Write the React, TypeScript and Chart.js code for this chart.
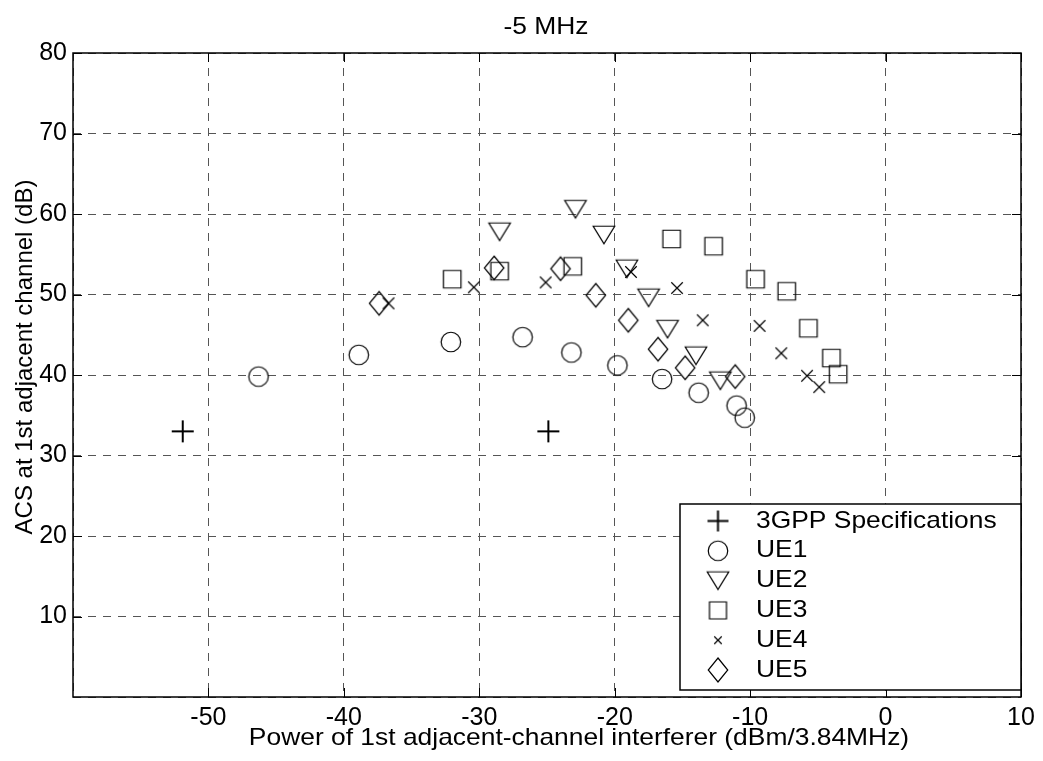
import React, { useEffect, useRef } from 'react';
import { Chart, registerables } from 'chart.js';

Chart.register(...registerables);

// ---------- data ----------
const xTickLabels = [-50, -40, -30, -20, -10, 0, 10];
const yTickLabels = [10, 20, 30, 40, 50, 60, 70, 80];

const specX = [-51.9, -24.9];
const specY = [33.0, 33.0];

const ue1X = [-46.3, -38.9, -32.1, -26.8, -23.2, -19.8, -16.5, -13.8, -11.0, -10.4];
const ue1Y = [39.8, 42.5, 44.1, 44.7, 42.8, 41.2, 39.5, 37.8, 36.2, 34.7];

const ue2X = [-28.5, -22.9, -20.8, -19.1, -17.5, -16.1, -14.0, -12.2];
const ue2Y = [57.8, 60.6, 57.4, 53.2, 49.6, 45.7, 42.4, 39.3];

const ue3X = [-32.0, -28.5, -23.1, -15.8, -12.7, -9.6, -7.3, -5.7, -4.0, -3.5];
const ue3Y = [51.9, 52.9, 53.5, 56.9, 56.0, 51.9, 50.4, 45.8, 42.1, 40.1];

const ue4X = [-36.7, -30.4, -25.1, -18.8, -15.4, -13.5, -9.3, -7.7, -5.8, -4.9];
const ue4Y = [48.9, 50.9, 51.5, 52.8, 50.8, 46.8, 46.1, 42.7, 39.9, 38.5];

const ue5X = [-37.4, -28.9, -24.0, -21.4, -19.0, -16.8, -14.8, -11.1];
const ue5Y = [48.9, 53.3, 53.2, 49.9, 46.8, 43.2, 40.9, 39.8];

const seriesNames = ['3GPP Specifications', 'UE1', 'UE2', 'UE3', 'UE4', 'UE5'];

const titleText = '-5 MHz';
const xTitle = 'Power of 1st adjacent-channel interferer (dBm/3.84MHz)';
const yTitle = 'ACS at 1st adjacent channel (dB)';

const FONT = '"Liberation Sans", Arial, sans-serif';
const FS = 24;
const TICK_FS = 25;
const HSCALE = 1.1;

// ---------- marker images ----------
type Kind = 'plus' | 'circle' | 'tri' | 'square' | 'x' | 'diamond';
function makeMarker(kind: Kind, w: number, h: number, lw: number): HTMLCanvasElement {
  const pad = 3;
  const c = document.createElement('canvas');
  c.width = Math.ceil(w + pad * 2);
  c.height = Math.ceil(h + pad * 2);
  const g = c.getContext('2d')!;
  const cx = c.width / 2;
  const cy = c.height / 2;
  g.strokeStyle = '#000';
  g.lineWidth = lw;
  g.beginPath();
  if (kind === 'plus') {
    g.moveTo(cx - w / 2, cy); g.lineTo(cx + w / 2, cy);
    g.moveTo(cx, cy - h / 2); g.lineTo(cx, cy + h / 2);
  } else if (kind === 'x') {
    g.moveTo(cx - w / 2, cy - h / 2); g.lineTo(cx + w / 2, cy + h / 2);
    g.moveTo(cx + w / 2, cy - h / 2); g.lineTo(cx - w / 2, cy + h / 2);
  } else if (kind === 'circle') {
    g.arc(cx, cy, w / 2, 0, Math.PI * 2);
  } else if (kind === 'tri') {
    g.moveTo(cx - w / 2, cy - h / 2); g.lineTo(cx + w / 2, cy - h / 2); g.lineTo(cx, cy + h / 2); g.closePath();
  } else if (kind === 'square') {
    g.rect(cx - w / 2, cy - h / 2, w, h);
  } else if (kind === 'diamond') {
    g.moveTo(cx, cy - h / 2); g.lineTo(cx + w / 2, cy); g.lineTo(cx, cy + h / 2); g.lineTo(cx - w / 2, cy); g.closePath();
  }
  g.stroke();
  return c;
}

function toPts(xs: number[], ys: number[]) {
  return xs.map((x, i) => ({ x, y: ys[i] }));
}

export default function App() {
  const ref = useRef<HTMLCanvasElement | null>(null);

  useEffect(() => {
    document.body.style.margin = '0';
    const canvas = ref.current!;
    const markers = [
      makeMarker('plus', 22, 22, 2),
      makeMarker('circle', 19.5, 19.5, 1.2),
      makeMarker('tri', 21.5, 17.5, 1.2),
      makeMarker('square', 17.5, 17.5, 1.2),
      makeMarker('x', 11.5, 11.5, 1.2),
      makeMarker('diamond', 19.5, 23.5, 1.2),
    ];
    const legendMarkers = [
      makeMarker('plus', 21, 21, 2),
      makeMarker('circle', 19.5, 19.5, 1.2),
      makeMarker('tri', 21.5, 17.5, 1.2),
      makeMarker('square', 17, 17, 1.2),
      makeMarker('x', 7.5, 7.5, 1.2),
      makeMarker('diamond', 19.5, 24, 1.2),
    ];
    const allX = [specX, ue1X, ue2X, ue3X, ue4X, ue5X];
    const allY = [specY, ue1Y, ue2Y, ue3Y, ue4Y, ue5Y];

    const datasets = seriesNames.map((name, i) => ({
      label: name,
      data: toPts(allX[i], allY[i]),
      pointStyle: markers[i],
      pointRadius: 10,
      showLine: false,
      borderColor: '#000',
      backgroundColor: 'transparent',
    }));

    const drawScaled = (ctx: CanvasRenderingContext2D, text: string, x: number, y: number, align: CanvasTextAlign) => {
      ctx.save();
      ctx.translate(x, y);
      ctx.scale(HSCALE, 1);
      ctx.textAlign = align;
      ctx.fillText(text, 0, 0);
      ctx.restore();
    };

    const framePlugin = {
      id: 'frame',
      afterDatasetsDraw(chart: any) {
        const { ctx, chartArea, scales } = chart;
        const { left, right, top, bottom } = chartArea;
        ctx.save();
        ctx.strokeStyle = '#000';
        ctx.lineWidth = 1.5;
        ctx.strokeRect(left, top, right - left, bottom - top);
        ctx.lineWidth = 1;
        const tl = 9;
        ctx.beginPath();
        for (const v of xTickLabels) {
          const px = Math.round(scales.x.getPixelForValue(v)) + 0.5;
          ctx.moveTo(px, bottom); ctx.lineTo(px, bottom - tl);
          ctx.moveTo(px, top); ctx.lineTo(px, top + tl);
        }
        for (const v of yTickLabels) {
          const py = Math.round(scales.y.getPixelForValue(v)) + 0.5;
          ctx.moveTo(left, py); ctx.lineTo(left + tl, py);
          ctx.moveTo(right, py); ctx.lineTo(right - tl, py);
        }
        ctx.stroke();
        ctx.restore();
      },
      afterDraw(chart: any) {
        const { ctx, chartArea } = chart;
        ctx.save();
        ctx.fillStyle = '#000';
        ctx.font = `${FS}px ${FONT}`;
        ctx.textBaseline = 'alphabetic';
        // title
        drawScaled(ctx, titleText, 546, 34, 'center');
        // x title
        drawScaled(ctx, xTitle, 579, 745, 'center');
        // y title
        ctx.save();
        ctx.translate(32, 357);
        ctx.rotate(-Math.PI / 2);
        ctx.textAlign = 'center';
        ctx.fillText(yTitle, 0, 0);
        ctx.restore();
        // legend
        const lx = 680, ly = 504, lr = chartArea.right, lb = 690;
        ctx.fillStyle = '#fff';
        ctx.fillRect(lx, ly, lr - lx, lb - ly);
        ctx.strokeStyle = '#000';
        ctx.lineWidth = 1.5;
        ctx.strokeRect(lx, ly, lr - lx, lb - ly);
        ctx.fillStyle = '#000';
        ctx.textBaseline = 'middle';
        seriesNames.forEach((name, i) => {
          const ry = 521 + i * 29.8;
          const m = legendMarkers[i];
          ctx.drawImage(m, 718 - m.width / 2, ry - m.height / 2);
          drawScaled(ctx, name, 756, ry, 'left');
        });
        ctx.restore();
      },
    };

    const chart = new Chart(canvas, {
      type: 'scatter',
      data: { datasets },
      options: {
        responsive: false,
        animation: false,
        events: [],
        layout: { padding: { top: 53, right: 22, left: 0, bottom: 0 } },
        plugins: {
          legend: { display: false },
          title: { display: false },
          tooltip: { enabled: false },
        },
        scales: {
          x: {
            type: 'linear',
            min: -60,
            max: 10,
            ticks: {
              stepSize: 10,
              color: '#000',
              font: { family: FONT, size: TICK_FS },
              padding: 6,
              maxRotation: 0,
              autoSkip: false,
              callback: (v: any) => (xTickLabels.includes(Number(v)) ? String(v) : ''),
            },
            grid: { color: '#555', lineWidth: 1, drawTicks: false },
            border: { display: false, dash: [8, 7] },
            afterFit: (s: any) => { s.height = 64; },
          },
          y: {
            type: 'linear',
            min: 0,
            max: 80,
            ticks: {
              stepSize: 10,
              color: '#000',
              font: { family: FONT, size: TICK_FS },
              padding: 6,
              autoSkip: false,
              callback: (v: any) => (yTickLabels.includes(Number(v)) ? String(v) : ''),
            },
            grid: { color: '#555', lineWidth: 1, drawTicks: false },
            border: { display: false, dash: [8, 7] },
            afterFit: (s: any) => { s.width = 73; },
          },
        },
      },
      plugins: [framePlugin],
    });
    return () => chart.destroy();
  }, []);

  return (
    <div style={{ width: 1043, height: 761 }}>
      <canvas ref={ref} width={1043} height={761} style={{ display: 'block' }} />
    </div>
  );
}
